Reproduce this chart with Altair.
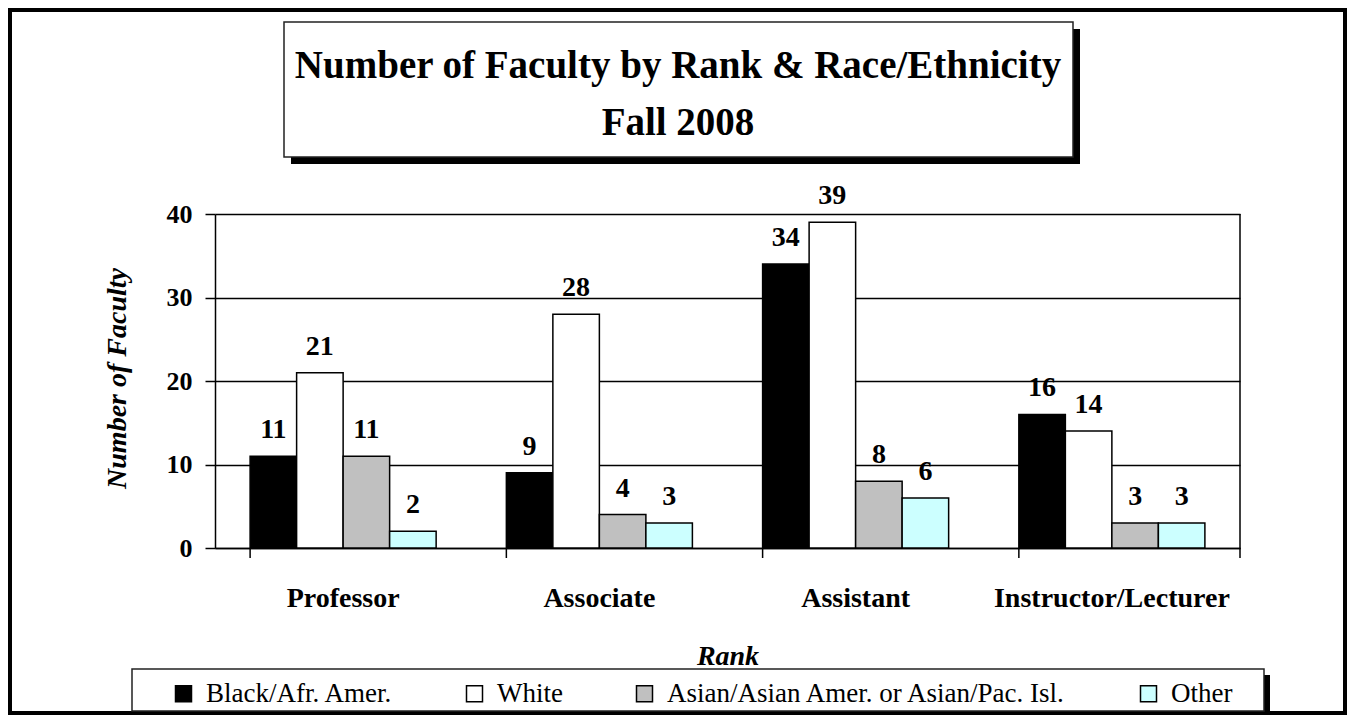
import altair as alt
import pandas as pd

# ---------------- data ----------------
ranks = ["Professor", "Associate", "Assistant", "Instructor/Lecturer"]
groups = ["Black/Afr. Amer.", "White", "Asian/Asian Amer. or Asian/Pac. Isl.", "Other"]
black_vals = [11, 9, 34, 16]
white_vals = [21, 28, 39, 14]
asian_vals = [11, 4, 8, 3]
other_vals = [2, 3, 6, 3]
colors = ["#000000", "#FFFFFF", "#C0C0C0", "#CCFFFF"]
title_lines = ["Number of Faculty by Rank & Race/Ethnicity", "Fall 2008"]
y_ticks = [0, 10, 20, 30, 40]

rows = []
for g, vals in zip(groups, [black_vals, white_vals, asian_vals, other_vals]):
    for r, v in zip(ranks, vals):
        rows.append({"Rank": r, "Group": g, "Count": v})
df = pd.DataFrame(rows)
rank_df = pd.DataFrame({"Rank": ranks})
deco = pd.DataFrame({"k": [0]})

FONT = "Liberation Serif"
W, H = 1025, 334
PAD_L, PAD_T = 207, 206
TOTAL_W, TOTAL_H = 1339, 707

x_enc = alt.X(
    "Rank:N",
    sort=ranks,
    scale=alt.Scale(paddingInner=0.274, paddingOuter=0.137),
    axis=alt.Axis(
        title="Rank",
        labelFont=FONT, labelFontSize=28, labelFontWeight="bold", labelColor="black",
        labelAngle=0, labelBaseline="alphabetic", labelPadding=58, labelLimit=500,
        ticks=False, domainColor="black", domainWidth=1.5,
        titleFont=FONT, titleFontSize=28, titleFontWeight="bold", titleFontStyle="italic",
        titleColor="black", titleY=116, titleBaseline="alphabetic",
        titleAlign="center", grid=False,
    ),
)
y_enc = alt.Y(
    "Count:Q",
    scale=alt.Scale(domain=[0, 40], nice=False),
    axis=alt.Axis(
        values=y_ticks, title="Number of Faculty",
        grid=True, gridColor="black", gridWidth=1.5,
        tickSize=10, tickColor="black", tickWidth=1.5,
        domainColor="black", domainWidth=1.5,
        labelFont=FONT, labelFontSize=26, labelFontWeight="bold", labelColor="black",
        labelPadding=13,
        titleFont=FONT, titleFontSize=28, titleFontWeight="bold", titleFontStyle="italic",
        titleColor="black", titleX=-90, titleY=164, titleBaseline="alphabetic",
        titleAngle=270, titleAlign="center",
    ),
)
xoff = alt.XOffset("Group:N", sort=groups, scale=alt.Scale(paddingInner=0, paddingOuter=0))

bars = alt.Chart(df).mark_bar(stroke="black", strokeWidth=1.5).encode(
    x=x_enc,
    y=y_enc,
    xOffset=xoff,
    color=alt.Color(
        "Group:N", sort=groups,
        scale=alt.Scale(domain=groups, range=colors),
        legend=alt.Legend(
            orient="none", legendX=-45, legendY=466, direction="horizontal",
            title=None, labelFont=FONT, labelFontSize=27, labelColor="black",
            symbolType="square", symbolSize=256, symbolStrokeColor="black",
            symbolStrokeWidth=1.5, symbolOpacity=1, labelOffset=9,
            columnPadding=68, padding=0, zindex=1, labelLimit=700,
        ),
    ),
)

labels = alt.Chart(df).mark_text(
    dy=-18, baseline="alphabetic", font=FONT, fontSize=28, fontWeight="bold", color="black"
).encode(x=alt.X("Rank:N", sort=ranks), y="Count:Q", xOffset=xoff, text="Count:Q")

cat_ticks = alt.Chart(rank_df).mark_rule(color="black", strokeWidth=1.5).encode(
    x=alt.X("Rank:N", sort=ranks, bandPosition=0), y=alt.value(H), y2=alt.value(H + 10)
)
right_border = alt.Chart(deco).mark_rule(color="black", strokeWidth=1.5).encode(
    x=alt.value(W), y=alt.value(0), y2=alt.value(H + 10)
)

frame = alt.Chart(deco).mark_rect(fillOpacity=0, stroke="black", strokeWidth=4).encode(
    x=alt.value(-205), x2=alt.value(1130), y=alt.value(-204), y2=alt.value(499)
)
title_shadow = alt.Chart(deco).mark_rect(fill="black").encode(
    x=alt.value(76), x2=alt.value(865), y=alt.value(-185), y2=alt.value(-50)
)
title_box = alt.Chart(deco).mark_rect(fill="white", stroke="#222222", strokeWidth=1.5).encode(
    x=alt.value(69), x2=alt.value(858), y=alt.value(-192), y2=alt.value(-57)
)
title_text = alt.Chart(deco).mark_text(
    font=FONT, fontSize=39, fontWeight="bold", color="black",
    align="center", baseline="alphabetic", lineHeight=57,
).encode(x=alt.value(463), y=alt.value(-136), text=alt.value(title_lines))

legend_shadow = alt.Chart(deco).mark_rect(fill="black").encode(
    x=alt.value(-77), x2=alt.value(1055), y=alt.value(461), y2=alt.value(506)
)
legend_box = alt.Chart(deco).mark_rect(fill="white", stroke="#222222", strokeWidth=1.5).encode(
    x=alt.value(-83), x2=alt.value(1049), y=alt.value(455), y2=alt.value(497)
)

chart = alt.layer(
    frame, title_shadow, title_box, title_text, legend_shadow, legend_box,
    bars, labels, cat_ticks, right_border,
).properties(
    width=W, height=H,
    autosize=alt.AutoSizeParams(type="none"),
    padding={"left": PAD_L, "top": PAD_T, "right": TOTAL_W - PAD_L - W, "bottom": TOTAL_H - PAD_T - H},
    background="white",
).configure_view(stroke=None)

chart.save("out.html", embed_options={"renderer": "svg", "actions": False})
